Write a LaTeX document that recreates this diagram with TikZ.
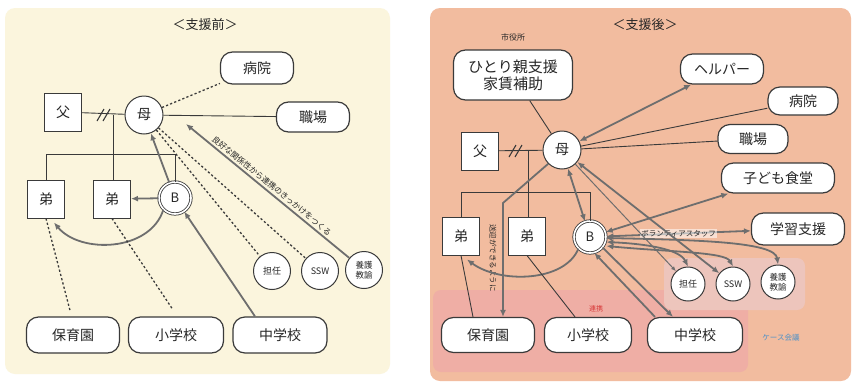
\documentclass[tikz,border=0pt]{standalone}
\usepackage{fontspec}
\setmainfont{Noto Sans CJK JP}
\usetikzlibrary{arrows.meta,calc}
\definecolor{leftbg}{HTML}{FBF5DD}
\definecolor{rightbg}{HTML}{F2BC9F}
\definecolor{pinkzone}{HTML}{EFAEA5}
\definecolor{casezone}{HTML}{EDC5BC}
\definecolor{lc}{HTML}{3A3A3A}
\definecolor{ac}{HTML}{6E6E6E}
\definecolor{renred}{HTML}{D83A3A}
\definecolor{caseblue}{HTML}{4A90C8}
\begin{document}
\begin{tikzpicture}[x=1pt,y=-1pt,
  every node/.style={text=black!85},
  pill/.style={draw=lc, line width=1.2pt, fill=white, rounded corners=12pt, inner sep=2pt, font=\fontsize{14}{16}\selectfont},
  sq/.style={draw=lc, line width=1pt, fill=white, minimum width=37pt, minimum height=38pt, inner sep=0pt, font=\fontsize{14}{16}\selectfont},
  pc/.style={circle, draw=lc, line width=1pt, fill=white, minimum size=38pt, inner sep=0pt, font=\fontsize{14}{16}\selectfont},
  bc/.style={circle, draw=lc, line width=0.8pt, double=white, double distance=1.6pt, fill=white, minimum size=32pt, inner sep=0pt, font=\fontsize{13}{15}\selectfont},
  sc/.style={circle, draw=lc, line width=1pt, fill=white, minimum size=37pt, inner sep=0pt, font=\fontsize{9}{10}\selectfont, align=center},
  thinl/.style={draw=lc, line width=0.9pt},
  dsh/.style={draw=lc, line width=1.3pt, dash pattern=on 2.2pt off 2.2pt},
  tarr/.style={draw=ac, line width=1.8pt, >={Latex[length=7pt,width=6pt]}},
  thinarr/.style={draw=ac, line width=1pt, >={Latex[length=5pt,width=4pt]}},
  lab/.style={font=\fontsize{8}{9}\selectfont, inner sep=1pt}
]
\useasboundingbox (0,0) rectangle (857,386);
\fill[white] (0,0) rectangle (857,386);
\fill[leftbg, rounded corners=10pt] (5,8) rectangle (390,374);
\fill[rightbg, rounded corners=10pt] (430,8) rectangle (851,381);
\fill[pinkzone, rounded corners=8pt] (433,290) rectangle (748,372);
\fill[casezone, rounded corners=8pt] (664,258) rectangle (805,310);

% ---------------- LEFT ----------------
\node[font=\fontsize{13}{15}\selectfont] (tL) at (205,25) {＜支援前＞};
\node[pill, minimum width=73pt, minimum height=32pt] (hospL) at (257,68) {病院};
\node[pill, minimum width=73pt, minimum height=30pt] (workL) at (313,117) {職場};
\node[sq] (fL) at (63,112) {父};
\node[pc] (mL) at (144,115) {母};
\node[sq] (d1L) at (46,199) {弟};
\node[sq] (d2L) at (112,199) {弟};
\node[bc] (bL) at (175,198) {B};
\node[sc] (tanL) at (272,271) {担任};
\node[sc] (sswL) at (320,271) {SSW};
\node[sc, font=\fontsize{8.5}{10}\selectfont] (yogoL) at (364,270) {養護\\教諭};
\node[pill, minimum width=93pt, minimum height=36pt] (hoikuL) at (73,335) {保育園};
\node[pill, minimum width=95pt, minimum height=36pt] (shoL) at (176,335) {小学校};
\node[pill, minimum width=94pt, minimum height=36pt] (chuL) at (280,335) {中学校};

\draw[thinl] (fL) -- (mL);
\draw[thinl, line width=1.1pt] (97,121) -- (104,109) (103,121) -- (110,109);
\coordinate (jL) at (113,115);
\draw[thinl] (jL) -- (jL |- d2L.north);
\draw[thinl] (d1L.north) -- ++(0,-25) -| (bL.north);
\draw[dsh] (mL) -- (hospL);
\draw[dsh] (mL) -- (tanL);
\draw[dsh] (mL) -- (sswL);
\draw[thinl] (mL) -- (workL);
\draw[tarr,->] (bL) -- (mL);
\draw[tarr,->] (bL) -- (d2L);
\draw[tarr,->] ($(chuL.north)+(-25,0)$) -- (bL);
\coordinate (aL) at (186,124);
\draw[tarr,<-] (aL) -- node[lab, sloped, above=1pt] {良好な関係性から連携のきっかけをつくる} (yogoL);
\draw[tarr,->] (bL.south west) .. controls (150,252) and (80,254) .. ($(d1L.south)+(8,4)$);
\draw[dsh] (d1L.south) -- ($(hoikuL.north)+(-3,-6)$);
\draw[dsh] (d2L.south) -- ($(shoL.north)+(-4,-8)$);

% ---------------- RIGHT ----------------
\node[font=\fontsize{13}{15}\selectfont] (tR) at (645,25) {＜支援後＞};
\node[font=\fontsize{8}{9}\selectfont] (shiR) at (513,37) {市役所};
\node[pill, align=center, minimum width=119pt, minimum height=50pt, font=\fontsize{15}{17}\selectfont] (hitoR) at (513,75) {ひとり親支援\\家賃補助};
\node[pill, minimum width=83pt, minimum height=30pt] (helpR) at (722,69) {ヘルパー};
\node[pill, minimum width=70pt, minimum height=28pt] (hospR) at (803,101) {病院};
\node[pill, minimum width=70pt, minimum height=29pt] (workR) at (753,139) {職場};
\node[pill, minimum width=113pt, minimum height=30pt] (kodoR) at (778,178) {子ども食堂};
\node[pill, minimum width=93pt, minimum height=32pt] (gakuR) at (798,229) {学習支援};
\node[sq] (fR) at (480,151) {父};
\node[pc] (mR) at (562,150) {母};
\node[sq] (d1R) at (461,236) {弟};
\node[sq] (d2R) at (527,236) {弟};
\node[bc] (bR) at (590,237) {B};
\node[sc, minimum size=34pt] (tanR) at (688,284) {担任};
\node[sc, minimum size=34pt] (sswR) at (733,284) {SSW};
\node[sc, minimum size=34pt, font=\fontsize{8.5}{10}\selectfont] (yogoR) at (778,282) {養護\\教諭};
\node[pill, minimum width=93pt, minimum height=35pt] (hoikuR) at (488,335) {保育園};
\node[pill, minimum width=87pt, minimum height=35pt] (shoR) at (588,335) {小学校};
\node[pill, minimum width=95pt, minimum height=35pt] (chuR) at (695,335) {中学校};
\node[font=\fontsize{7}{8}\selectfont, text=renred] (renR) at (596,309) {連携};
\node[font=\fontsize{7.5}{9}\selectfont, text=caseblue] (caseR) at (781,338) {ケース会議};

\draw[thinl] (fR) -- (mR);
\draw[thinl, line width=1.1pt] (509,157) -- (516,145) (515,157) -- (522,145);
\coordinate (jR) at (528,151);
\draw[thinl] (jR) -- (jR |- d2R.north);
\draw[thinl] (d1R.north) -- ++(0,-24) -| (bR.north);
\draw[thinl] (hitoR) -- (mR);
\draw[tarr,<->] (mR) -- (helpR);
\draw[thinl] (mR) -- (hospR);
\draw[thinl] (mR) -- (workR);
\draw[tarr,<->] (mR) -- (bR);
\coordinate (bendR) at (503,203);
\draw[tarr,->] (mR.south west) -- (bendR) -- (bendR |- hoikuR.north);
\node[font=\fontsize{7.5}{9}\selectfont, rotate=-90] (sogeiR) at (493,258) {送迎ができるように};
\draw[tarr,<->] (bR) -- (kodoR);
\draw[tarr,<->] (bR) -- node[lab, font=\fontsize{7.5}{9}\selectfont, fill=white, fill opacity=0.55, text opacity=1] {ボランティアスタッフ} (gakuR);
\draw[thinarr,->] (mR) -- (tanR);
\draw[tarr,<->] (mR) -- (sswR);
\draw[tarr,<->] ($(bR.east)+(0,5)$) .. controls (650,244) and (680,250) .. (tanR.north);
\draw[tarr,<->] ($(bR.east)+(0,9)$) .. controls (670,252) and (725,252) .. (sswR.north);
\draw[tarr,<->] ($(bR.east)+(-1,1)$) .. controls (700,240) and (775,242) .. (yogoR.north);
\draw[tarr,->] ($(chuR.north)+(-40,0)$) -- (bR.-75);
\draw[tarr,->] (bR.-40) -- ($(chuR.north)+(-22,0)$);
\draw[tarr,->] (bR.south west) .. controls (565,282) and (500,284) .. ($(d1R.south)+(6,4)$);
\draw[thinl] (d1R.south) -- ($(hoikuR.north)+(-15,0)$);
\draw[thinl] (d2R.south) -- ($(shoR.north)+(-13,0)$);
\end{tikzpicture}
\end{document}
